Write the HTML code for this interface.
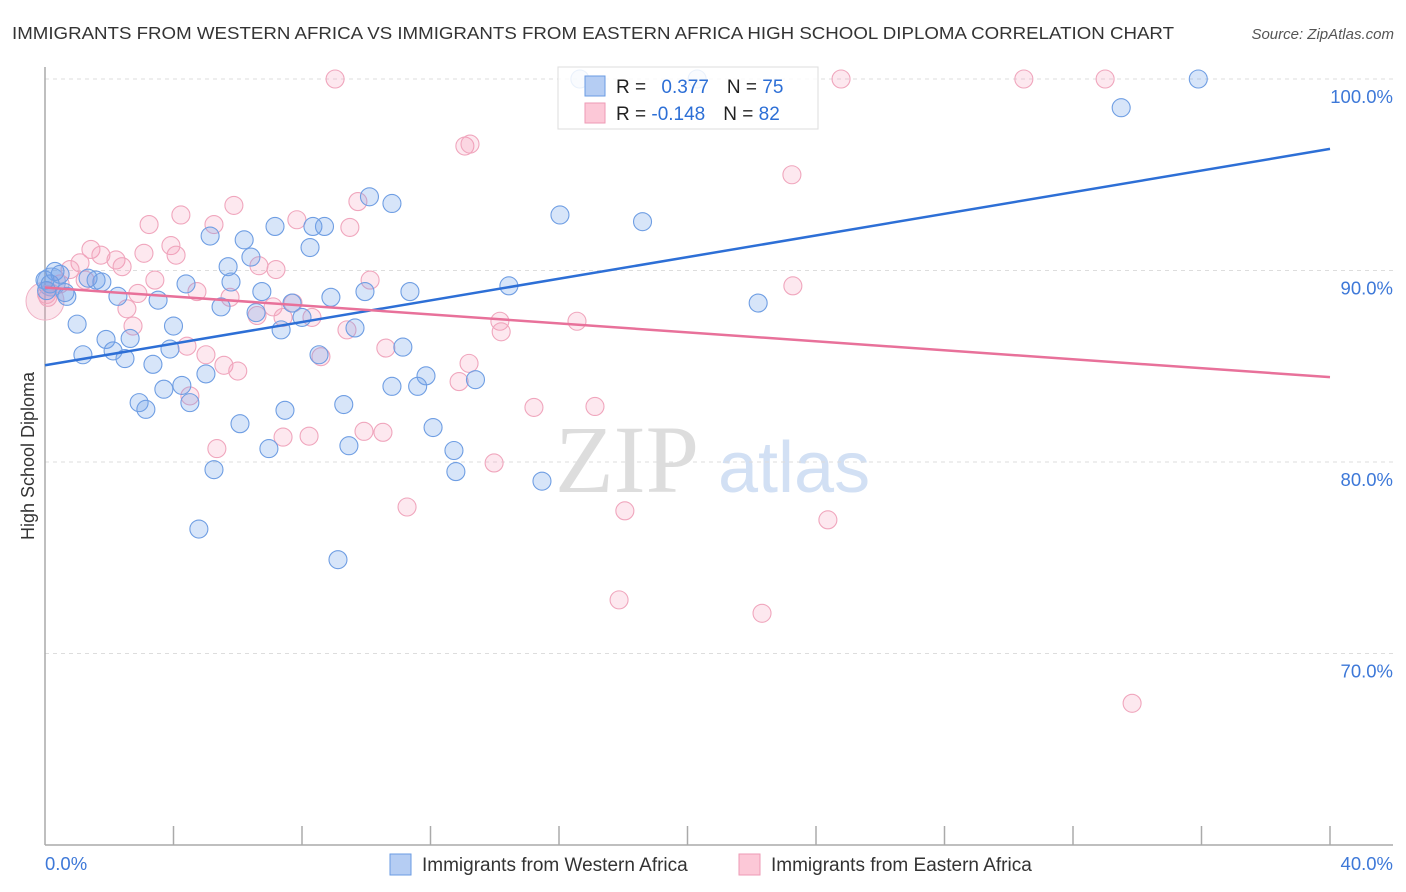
<!DOCTYPE html>
<html><head><meta charset="utf-8">
<style>
body{margin:0;background:#fff;font-family:"Liberation Sans",sans-serif;}
#wrap{position:relative;width:1406px;height:892px;overflow:hidden;}
</style></head>
<body>
<div id="wrap">
<svg id="chart" width="1406" height="892" xmlns="http://www.w3.org/2000/svg">
<text x="12" y="39" font-size="17.5" fill="#333" textLength="1162" lengthAdjust="spacingAndGlyphs">IMMIGRANTS FROM WESTERN AFRICA VS IMMIGRANTS FROM EASTERN AFRICA HIGH SCHOOL DIPLOMA CORRELATION CHART</text>
<text x="1394" y="39" font-size="15" fill="#555" font-style="italic" text-anchor="end">Source: ZipAtlas.com</text>
<text x="34" y="456" font-size="18" fill="#333" text-anchor="middle" transform="rotate(-90 34 456)">High School Diploma</text>
<g>
<text x="555" y="492" font-size="96" fill="#ddd" font-family="Liberation Serif,serif">ZIP</text>
<text x="718" y="492" font-size="72" fill="#d2e0f4">atlas</text>
</g>
<g id="grid"></g><g id="axes"></g><g id="pts"></g><g id="lines"></g>
<g>
<rect x="558" y="67" width="260" height="62" fill="#fff" fill-opacity="0.85" stroke="#ddd"/>
<rect x="585" y="76" width="20" height="20" fill="#b5cdf3" stroke="#6a9be3"/>
<rect x="585" y="103" width="20" height="20" fill="#fcc8d7" stroke="#ee9ab4"/>
<text x="616" y="93" font-size="19" fill="#222">R = <tspan fill="#2d6fd6" dx="10">0.377</tspan><tspan fill="#222" dx="18">N = </tspan><tspan fill="#2d6fd6">75</tspan></text>
<text x="616" y="120" font-size="19" fill="#222">R = <tspan fill="#2d6fd6">-0.148</tspan><tspan fill="#222" dx="18">N = </tspan><tspan fill="#2d6fd6">82</tspan></text>
</g>
<g>
<rect x="390" y="854" width="21" height="21" fill="#b5cdf3" stroke="#6a9be3"/>
<text x="422" y="871" font-size="19" fill="#333">Immigrants from Western Africa</text>
<rect x="739" y="854" width="21" height="21" fill="#fcc8d7" stroke="#ee9ab4"/>
<text x="771" y="871" font-size="19" fill="#333">Immigrants from Eastern Africa</text>
</g>
</svg>
</div>
<script>
const yTicks=[100,90,80,70];
const xTickLabels=["0.0%","40.0%"];
const blueX=[16.65,20.3,35.9,33.5,10.1,10.8,16.03,18.6,7.16,8.7,8.34,5.14,6.2,6.41,8.25,5.7,0.31,0.47,1.59,1.77,4.39,5.79,6.75,9.96,11.36,14.44,0.68,2.27,3.52,8.9,7.69,5.48,6.57,8.0,22.2,1.0,4.0,7.35,9.65,1.9,2.65,2.12,3.89,11.14,1.18,2.49,3.36,8.53,5.01,11.86,4.26,3.7,10.8,11.6,13.4,2.93,4.51,3.14,7.47,9.3,6.07,12.08,6.97,9.46,12.73,5.26,12.79,15.47,4.79,9.12,0,0.16,0.62,1.34,0.05];
const blueY=[100,100,100,98.5,93.85,93.5,92.9,92.55,92.3,92.3,92.3,91.8,91.6,90.7,91.2,90.2,89.95,89.8,89.5,89.4,89.3,89.4,88.9,88.9,88.9,89.2,88.65,88.65,88.45,88.6,88.3,88.1,87.8,87.55,88.3,87.2,87.1,86.9,87.0,86.4,86.45,85.8,85.9,86.0,85.6,85.4,85.1,85.6,84.6,84.5,84.0,83.8,83.95,83.95,84.3,83.1,83.1,82.75,82.7,83.0,82.0,81.8,80.7,80.85,80.6,79.6,79.5,79.0,76.5,74.9,89.5,89.3,88.85,89.6,88.95];
const pinkX=[9.03,24.78,30.47,33.0,13.07,13.23,23.25,5.88,4.23,3.24,5.26,9.74,7.84,9.49,1.43,1.74,2.21,3.08,3.92,4.08,1.09,2.4,6.66,7.19,10.12,3.42,4.73,2.89,5.76,2.55,6.6,7.72,7.1,8.31,7.41,9.4,2.74,14.16,16.56,23.28,14.2,4.42,5.01,10.61,5.57,6.0,8.59,13.2,12.89,4.51,15.22,17.12,9.93,10.52,7.41,8.22,5.35,13.98,11.27,18.05,24.37,17.87,22.32,33.84,0.09,0.47,0.78,1.25,0.05];
const pinkY=[100,100,100,100,96.5,96.6,95.0,93.4,92.9,92.4,92.4,93.6,92.65,92.25,91.1,90.8,90.55,90.9,91.3,90.8,90.4,90.2,90.25,90.05,89.5,89.5,88.9,88.8,88.6,88.0,87.65,88.3,88.1,87.55,87.55,86.9,87.1,87.35,87.35,89.2,86.8,86.05,85.6,85.95,85.05,84.75,85.5,85.15,84.2,83.45,82.85,82.9,81.6,81.55,81.3,81.35,80.7,79.95,77.65,77.45,76.98,72.8,72.1,67.4,88.6,89.3,90.05,89.5,88.75];
const blueLine=[85.05,96.35];
const pinkLine=[89.11,84.43];
const X0=45,X1=1330,YT=79,YB=845;
function sx(v){return X0+(v/40)*(X1-X0);}
function sy(v){return YT+(100-v)*(YB-YT)/40;}
const NS="http://www.w3.org/2000/svg";
function mk(t,a,p){const e=document.createElementNS(NS,t);for(const k in a)e.setAttribute(k,a[k]);p.appendChild(e);return e;}
const grid=document.getElementById('grid'),axes=document.getElementById('axes');
yTicks.forEach(t=>{
 const l=mk('line',{x1:X0,x2:1393,y1:sy(t),y2:sy(t),stroke:'#ddd','stroke-dasharray':'4,4'},grid);
 
 
 const tx=mk('text',{x:1393,y:sy(t)+24,'font-size':18.5,fill:'#3d78d8','text-anchor':'end'},grid);
 tx.textContent=t.toFixed(1)+'%';
 
 
});
let a=mk('line',{x1:X0,x2:X0,y1:67,y2:YB,stroke:'#aaa','stroke-width':1.5},axes);


a=mk('line',{x1:X0,x2:1393,y1:YB,y2:YB,stroke:'#aaa','stroke-width':1.5},axes);


for(let i=1;i<=10;i++){
 const t=mk('line',{x1:sx(i*4),x2:sx(i*4),y1:826,y2:YB,stroke:'#aaa','stroke-width':1.5},axes);
 
 
}
[[0,'start'],[40,'end']].forEach((d,i)=>{
 const tx=mk('text',{x:i?1393:45,y:870,'font-size':18.5,fill:'#3d78d8','text-anchor':d[1]},axes);
 tx.textContent=xTickLabels[i];
 
 
});
const pts=document.getElementById('pts');
function big(x,y,r,f,s){const c=mk('circle',{cx:sx(x),cy:sy(y),r:r,fill:f,stroke:s,'stroke-width':1},pts);
 
 }
big(0,88.4,19,'rgba(240,150,180,0.25)','#f0b0c4');
big(0.2,89.4,14,'rgba(100,150,230,0.3)','#7ea8e6');
pinkX.forEach((x,i)=>{
 const c=mk('circle',{cx:sx(x),cy:sy(pinkY[i]),r:9,fill:'rgba(245,150,180,0.22)',stroke:'#f0a6bd','stroke-width':1.1},pts);
 
 
});
blueX.forEach((x,i)=>{
 const c=mk('circle',{cx:sx(x),cy:sy(blueY[i]),r:9,fill:'rgba(110,160,235,0.28)',stroke:'#6f9ee3','stroke-width':1.1},pts);
 
 
});
const lines=document.getElementById('lines');
let L=mk('line',{x1:sx(0),y1:sy(blueLine[0]),x2:sx(40),y2:sy(blueLine[1]),stroke:'#2d6fd6','stroke-width':2.5},lines);


L=mk('line',{x1:sx(0),y1:sy(pinkLine[0]),x2:sx(40),y2:sy(pinkLine[1]),stroke:'#e8719a','stroke-width':2.5},lines);


</script>
</body></html>
